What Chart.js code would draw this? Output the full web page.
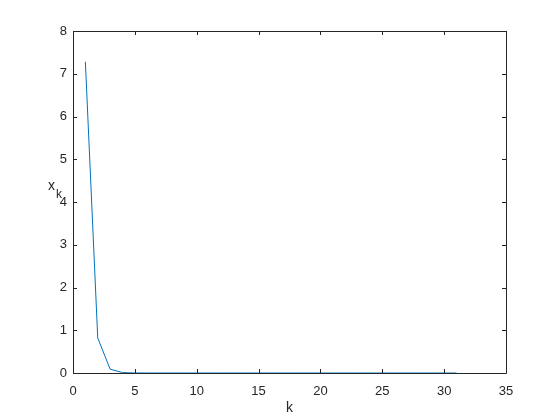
<!DOCTYPE html>
<html>
<head>
<meta charset="utf-8">
<script src="https://cdn.jsdelivr.net/npm/chart.js@4/dist/chart.umd.min.js"></script>
<style>
  html, body { margin: 0; padding: 0; background: #fff; }
  #wrap { width: 560px; height: 420px; }
</style>
</head>
<body>
<div id="wrap"><canvas id="chart" width="560" height="420"></canvas></div>
<script>
// iteration index and value
const kValues = [1, 2, 3, 4, 5, 6, 7, 8, 9, 10, 11, 12, 13, 14, 15, 16,
                 17, 18, 19, 20, 21, 22, 23, 24, 25, 26, 27, 28, 29, 30, 31];
const xkValues = [7.28, 0.82, 0.09, 0.01, 0.001, 0, 0, 0, 0, 0, 0, 0, 0, 0, 0, 0,
                  0, 0, 0, 0, 0, 0, 0, 0, 0, 0, 0, 0, 0, 0, 0];
const xTicks = [0, 5, 10, 15, 20, 25, 30, 35];
const yTicks = [0, 1, 2, 3, 4, 5, 6, 7, 8];

const axisColor = '#262626';
const font = { family: 'Liberation Sans, Arial, sans-serif', size: 13 };

// box round the plot, inward ticks, and the axis labels (x_k has a subscript)
const matlabAxes = {
    id: 'matlabAxes',
    afterDraw(chart) {
        const ctx = chart.ctx;
        const a = chart.chartArea;
        const sx = chart.scales.x, sy = chart.scales.y;
        ctx.save();
        ctx.strokeStyle = axisColor;
        ctx.lineWidth = 1;
        ctx.beginPath();
        ctx.rect(Math.round(a.left) + 0.5, Math.round(a.top) + 0.5,
                 Math.round(a.right - a.left), Math.round(a.bottom - a.top));
        xTicks.forEach(v => {
            const px = Math.round(sx.getPixelForValue(v)) + 0.5;
            ctx.moveTo(px, a.bottom); ctx.lineTo(px, a.bottom - 4);
            ctx.moveTo(px, a.top); ctx.lineTo(px, a.top + 4);
        });
        yTicks.forEach(v => {
            const py = Math.round(sy.getPixelForValue(v)) + 0.5;
            ctx.moveTo(a.left, py); ctx.lineTo(a.left + 4, py);
            ctx.moveTo(a.right, py); ctx.lineTo(a.right - 4, py);
        });
        ctx.stroke();

        ctx.fillStyle = axisColor;
        ctx.textBaseline = 'middle';
        ctx.textAlign = 'center';
        ctx.font = '14px Liberation Sans, Arial, sans-serif';
        ctx.fillText('k', (a.left + a.right) / 2, 408);
        ctx.textAlign = 'left';
        ctx.fillText('x', 48, 186);
        ctx.font = '12px Liberation Sans, Arial, sans-serif';
        ctx.fillText('k', 56, 195);
        ctx.restore();
    }
};

new Chart(document.getElementById('chart'), {
    type: 'line',
    data: {
        datasets: [{
            data: kValues.map((k, i) => ({ x: k, y: xkValues[i] })),
            borderColor: '#0072bd',
            borderWidth: 1,
            pointRadius: 0,
            tension: 0,
            fill: false
        }]
    },
    options: {
        responsive: false,
        animation: false,
        layout: { padding: { top: 31, right: 54, left: 0, bottom: 0 } },
        plugins: { legend: { display: false }, tooltip: { enabled: false } },
        scales: {
            x: {
                type: 'linear',
                min: 0, max: 35,
                afterBuildTicks: s => { s.ticks = xTicks.map(v => ({ value: v })); },
                afterFit: s => { s.height = 420 - 373; },
                grid: { display: false, drawTicks: false },
                border: { display: false },
                ticks: { color: axisColor, font: font, padding: 11, maxRotation: 0 }
            },
            y: {
                type: 'linear',
                min: 0, max: 8,
                afterBuildTicks: s => { s.ticks = yTicks.map(v => ({ value: v })); },
                afterFit: s => { s.width = 73; },
                grid: { display: false, drawTicks: false },
                border: { display: false },
                ticks: { color: axisColor, font: font, padding: 6 }
            }
        }
    },
    plugins: [matlabAxes]
});
</script>
</body>
</html>
